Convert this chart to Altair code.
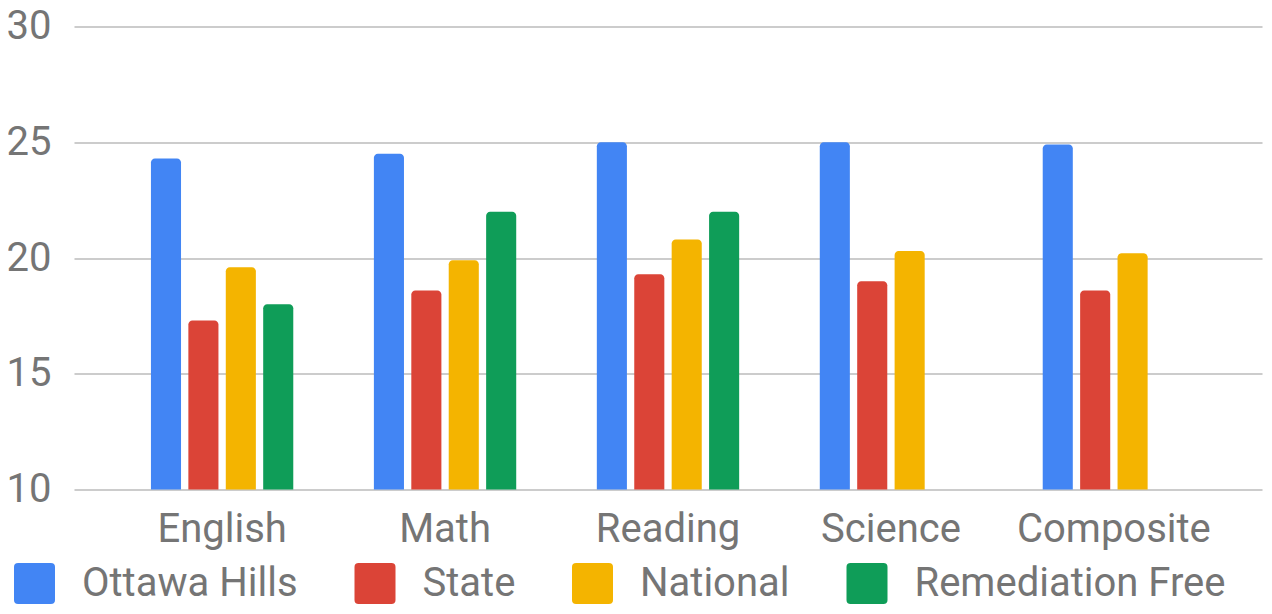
import altair as alt
import pandas as pd

categories = ["English", "Math", "Reading", "Science", "Composite"]
series = ["Ottawa Hills", "State", "National", "Remediation Free"]
colors = ["#4285F4", "#DB4437", "#F4B400", "#0F9D58"]
ottawa_hills = [24.3, 24.5, 25.0, 25.0, 24.9]
state = [17.3, 18.6, 19.3, 19.0, 18.6]
national = [19.6, 19.9, 20.8, 20.3, 20.2]
remediation_free = [18.0, 22.0, 22.0, None, None]
y_ticks = [10, 15, 20, 25, 30]
y_min, y_max = 10, 30

rows = []
for name, vals in zip(series, [ottawa_hills, state, national, remediation_free]):
    for cat, v in zip(categories, vals):
        if v is not None:
            rows.append({"Subject": cat, "Group": name, "Score": v})
df = pd.DataFrame(rows)

rounded_square = ("M-0.8,-1 L0.8,-1 Q1,-1 1,-0.8 L1,0.8 Q1,1 0.8,1 "
                  "L-0.8,1 Q-1,1 -1,0.8 L-1,-0.8 Q-1,-1 -0.8,-1 Z")

chart = alt.Chart(df).mark_bar(
    cornerRadiusTopLeft=4, cornerRadiusTopRight=4
).encode(
    x=alt.X("Subject:N", sort=categories,
            scale=alt.Scale(paddingInner=0.3287, paddingOuter=0.3287),
            axis=alt.Axis(title=None, labelAngle=0, ticks=False, tickSize=0,
                          domain=False, labelPadding=52, labelLimit=0,
                          labelBaseline="alphabetic")),
    xOffset=alt.XOffset("Group:N", sort=series,
                        scale=alt.Scale(paddingInner=0.196, paddingOuter=0.098)),
    y=alt.Y("Score:Q", scale=alt.Scale(domain=[y_min, y_max], nice=False, zero=False),
            axis=alt.Axis(title=None, values=y_ticks, ticks=False, domain=False,
                          labelPadding=23, gridColor="#cccccc", gridWidth=2)),
    y2=alt.datum(y_min),
    color=alt.Color("Group:N", sort=series,
                    scale=alt.Scale(domain=series, range=colors),
                    legend=alt.Legend(title=None, orient="none", direction="horizontal",
                                      legendX=-60, legendY=536.5,
                                      symbolType=rounded_square, symbolSize=1681,
                                      symbolStrokeWidth=0, symbolOpacity=1,
                                      labelOffset=27, columnPadding=56.5,
                                      labelLimit=1000, padding=0)),
).properties(
    width=1188, height=463,
    autosize=alt.AutoSizeParams(type="none"),
    padding={"left": 66, "top": 18.5, "right": 2, "bottom": 116.5},
).configure_view(
    stroke=None
).configure_axis(
    labelFont="Roboto", labelFontSize=40, labelColor="#757575"
).configure_legend(
    labelFont="Roboto", labelFontSize=40, labelColor="#757575"
)

chart.save("out.html", embed_options={"renderer": "svg", "actions": False})
